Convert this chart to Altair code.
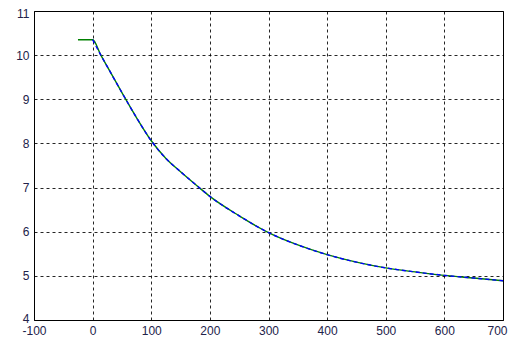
import altair as alt
import pandas as pd

# values
curve_x = [0, 14, 25, 50, 75, 100, 125, 150, 180, 200, 250, 300, 350, 400, 450, 500, 550, 600, 650, 700]
curve_y = [10.35, 10.0, 9.74, 9.15, 8.58, 8.06, 7.66, 7.36, 7.02, 6.8, 6.36, 5.98, 5.7, 5.48, 5.31, 5.18, 5.09, 5.01, 4.95, 4.89]
green_lead_x = [-25]
green_lead_y = [10.35]

x_ticks = [-100, 0, 100, 200, 300, 400, 500, 600, 700]
y_ticks = [4, 5, 6, 7, 8, 9, 10, 11]

green = pd.DataFrame({"x": green_lead_x + curve_x, "y": green_lead_y + curve_y})
blue = pd.DataFrame({"x": curve_x, "y": curve_y})

FONT = "Liberation Sans"
LABEL_COLOR = "#22224a"

xs = alt.Scale(domain=[-100, 700], nice=False, zero=False)
ys = alt.Scale(domain=[4, 11], nice=False, zero=False)

xaxis = alt.Axis(values=x_ticks, title=None, grid=True, gridDash=[3, 3], gridColor="#000",
                 gridOpacity=0.85, ticks=False, domain=False, labelFont=FONT, labelFontSize=12,
                 labelColor=LABEL_COLOR, labelPadding=5, labelFlush=False, labelOverlap=False,
                 labelExpr="'' + datum.value",
                 labelOffset=alt.expr("datum.value == 700 ? -6 : 0"))
yaxis = alt.Axis(values=y_ticks, title=None, grid=True, gridDash=[3, 3], gridColor="#000",
                 gridOpacity=0.85, ticks=False, domain=False, labelFont=FONT, labelFontSize=12,
                 labelColor=LABEL_COLOR, labelPadding=5, labelFlush=False, labelOverlap=False,
                 labelOffset=alt.expr("datum.value == 11 ? 2 : (datum.value == 4 ? -2 : 0)"))

g = alt.Chart(green).mark_line(color="#008000", strokeWidth=1.4, interpolate="monotone").encode(
    x=alt.X("x:Q", scale=xs, axis=xaxis),
    y=alt.Y("y:Q", scale=ys, axis=yaxis),
    order="x:Q",
)
b = alt.Chart(blue).mark_line(color="#0000ff", strokeWidth=1.4, strokeDash=[4, 3],
                              interpolate="monotone").encode(
    x=alt.X("x:Q", scale=xs),
    y=alt.Y("y:Q", scale=ys),
    order="x:Q",
)

chart = alt.layer(g, b).properties(
    width=469, height=309,
    autosize=alt.AutoSizeParams(type="none"),
    padding={"left": 26, "top": 3, "right": 5, "bottom": 17},
    background="white",
).configure_view(stroke="#000", strokeWidth=1)

chart.save("out.html", embed_options={"renderer": "svg", "actions": False})
